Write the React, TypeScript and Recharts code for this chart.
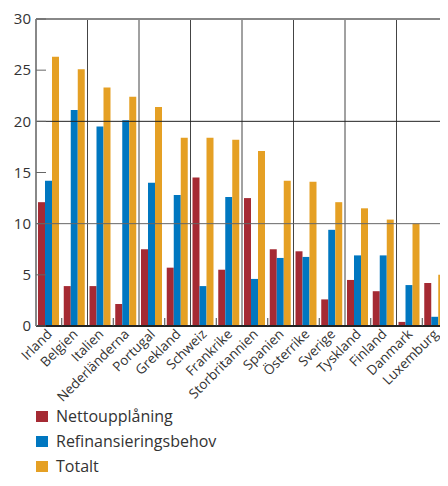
import { Bar, BarChart, CartesianGrid, ReferenceLine, XAxis, YAxis } from "recharts";

const countries = [
  "Irland",
  "Belgien",
  "Italien",
  "Nederländerna",
  "Portugal",
  "Grekland",
  "Schweiz",
  "Frankrike",
  "Storbritannien",
  "Spanien",
  "Österrike",
  "Sverige",
  "Tyskland",
  "Finland",
  "Danmark",
  "Luxemburg",
];
const netto = [12.1, 3.9, 3.9, 2.15, 7.5, 5.7, 14.5, 5.5, 12.5, 7.5, 7.3, 2.6, 4.5, 3.4, 0.4, 4.2];
const refin = [14.2, 21.1, 19.5, 20.1, 14.0, 12.8, 3.9, 12.6, 4.6, 6.65, 6.75, 9.4, 6.9, 6.9, 4.0, 0.9];
const totalt = [26.3, 25.1, 23.3, 22.4, 21.4, 18.4, 18.4, 18.2, 17.1, 14.2, 14.1, 12.1, 11.5, 10.4, 10.0, 5.0];
const yTicks = [0, 5, 10, 15, 20, 25, 30];

const series = [
  { key: "netto", name: "Nettoupplåning", color: "#a52a33" },
  { key: "refin", name: "Refinansieringsbehov", color: "#0077c0" },
  { key: "totalt", name: "Totalt", color: "#e5a024" },
];

const data = countries.map((name, i) => ({
  name,
  netto: netto[i],
  refin: refin[i],
  totalt: totalt[i],
}));

const W = 460;
const H = 486;
const margin = { top: 19, right: 8, left: 0, bottom: 90 };
const yAxisW = 36;
const rAxisW = 4;
const plotW = W - margin.left - margin.right - yAxisW - rAxisW;
const band = plotW / countries.length;

const font = "'Open Sans', sans-serif";

function CountryTick({ x, y, payload, index }: any) {
  const bx = x - band / 2;
  const tx = x + 4;
  const ty = y + 1;
  return (
    <g>
      {index % 2 === 1 && <line x1={bx} x2={bx} y1={y - 16} y2={y - 8} stroke="#444" />}
      <text
        x={tx}
        y={ty}
        textAnchor="end"
        transform={`rotate(-45, ${tx}, ${ty})`}
        fontSize={13.5}
        fill="#333"
        fontFamily={font}
      >
        {payload.value}
      </text>
    </g>
  );
}

function LegendBox() {
  return (
    <div style={{ position: "absolute", left: 36, top: 408, fontFamily: font }}>
      {series.map((s, i) => (
        <div
          key={s.key}
          style={{
            display: "flex",
            alignItems: "center",
            height: 16,
            marginBottom: i < series.length - 1 ? 9 : 0,
            fontSize: 16,
            lineHeight: "16px",
            color: "#333",
          }}
        >
          <span style={{ width: 12, height: 11, background: s.color, marginRight: 8 }} />
          {s.name}
        </div>
      ))}
    </div>
  );
}

export default function App() {
  return (
    <div style={{ margin: -8, width: 448, height: H, overflow: "hidden", position: "relative" }}>
      <BarChart width={W} height={H} data={data} margin={margin} barGap={0} barSize={7}>
        <CartesianGrid
          horizontal={false}
          stroke="#444"
          verticalCoordinatesGenerator={({ offset }: any) =>
            countries
              .map((_, i) => i)
              .filter((i) => i > 0 && i % 2 === 0)
              .map((i) => offset.left + (offset.width * i) / countries.length)
          }
        />
        <XAxis
          dataKey="name"
          interval={0}
          height={70}
          tick={<CountryTick />}
          tickLine={false}
          axisLine={{ stroke: "#222", strokeWidth: 2 }}
        />
        <YAxis
          domain={[0, 30]}
          ticks={yTicks}
          width={yAxisW}
          tickSize={-10}
          tickMargin={15}
          tickLine={{ stroke: "#666" }}
          axisLine={{ stroke: "#888", strokeWidth: 2 }}
          tick={{ fontSize: 15, fill: "#333", fontFamily: font }}
        />
        <YAxis
          yAxisId="r"
          orientation="right"
          domain={[0, 30]}
          ticks={yTicks}
          width={rAxisW}
          tick={false}
          tickSize={-8}
          tickLine={{ stroke: "#666" }}
          axisLine={false}
        />
        <ReferenceLine y={10} stroke="#666" />
        <ReferenceLine y={20} stroke="#222" />
        <ReferenceLine y={30} stroke="#888" strokeWidth={2} />
        {series.map((s) => (
          <Bar key={s.key} dataKey={s.key} name={s.name} fill={s.color} isAnimationActive={false} />
        ))}
      </BarChart>
      <LegendBox />
    </div>
  );
}
